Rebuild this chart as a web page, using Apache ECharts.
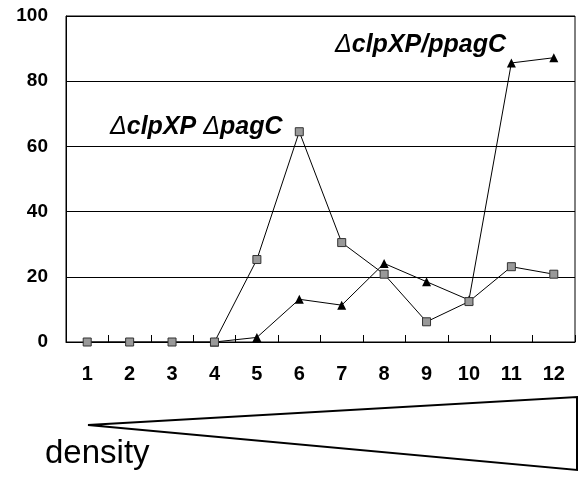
<!DOCTYPE html>
<html>
<head>
<meta charset="UTF-8">
<title>density</title>
<script src="https://cdn.jsdelivr.net/npm/echarts@6/dist/echarts.min.js"></script>
<style>
  html, body { margin: 0; padding: 0; background: #fff; }
  #main { width: 580px; height: 485px; }
</style>
</head>
<body>
<div id="main"></div>
<script>
const densities = ['1', '2', '3', '4', '5', '6', '7', '8', '9', '10', '11', '12'];
const clpXPpagC = [0, 0, 0, 0, 25.3, 64.5, 30.5, 20.8, 6.2, 12.4, 23.1, 20.8];      // squares
const clpXPppagC = [null, null, null, 0, 1.4, 13.1, 11.3, 24.1, 18.5, 12.9, 85.6, 87.2]; // triangles
const yTicks = [0, 20, 40, 60, 80, 100];

let chart = echarts.init(document.getElementById('main'));
const font = 'Liberation Sans, Arial, sans-serif';

chart.setOption({
    animation: false,
    backgroundColor: '#fff',
    grid: { left: 66, right: 5, top: 16, bottom: 143, show: true, borderColor: '#000', borderWidth: 1 },
    xAxis: {
        type: 'category',
        data: densities,
        boundaryGap: true,
        axisLine: { lineStyle: { color: '#000', width: 1 } },
        axisTick: { show: true, inside: true, length: 7, lineStyle: { color: '#000' } },
        axisLabel: { color: '#000', fontSize: 20, fontWeight: 'bold', fontFamily: font, margin: 22 }
    },
    yAxis: {
        type: 'value',
        min: yTicks[0],
        max: yTicks[yTicks.length - 1],
        interval: 20,
        axisLine: { show: true, lineStyle: { color: '#000' } },
        axisTick: { show: false },
        splitLine: { lineStyle: { color: '#000', width: 1 } },
        axisLabel: { color: '#000', fontSize: 19, fontWeight: 'bold', fontFamily: font, margin: 18 }
    },
    series: [
        {
            name: 'ΔclpXP/ppagC',
            type: 'line',
            data: clpXPppagC,
            symbol: 'triangle',
            symbolSize: 9,
            showAllSymbol: true,
            lineStyle: { color: '#000', width: 1 },
            itemStyle: { color: '#000' }
        },
        {
            name: 'ΔclpXP ΔpagC',
            type: 'line',
            data: clpXPpagC,
            symbol: 'rect',
            symbolSize: 8,
            showAllSymbol: true,
            lineStyle: { color: '#000', width: 1 },
            itemStyle: { color: '#999', borderColor: '#333', borderWidth: 1 }
        }
    ],
    graphic: [
        {
            type: 'text', left: 110, top: 115,
            style: {
                text: '{d|Δ}{t|clpXP }{d|Δ}{t|pagC}',
                rich: {
                    d: { fontSize: 25, fontStyle: 'italic', fontFamily: font, fill: '#000' },
                    t: { fontSize: 25, fontStyle: 'italic', fontWeight: 'bold', fontFamily: font, fill: '#000' }
                }
            }
        },
        {
            type: 'text', left: 335, top: 33,
            style: {
                text: '{d|Δ}{t|clpXP/ppagC}',
                rich: {
                    d: { fontSize: 25, fontStyle: 'italic', fontFamily: font, fill: '#000' },
                    t: { fontSize: 25, fontStyle: 'italic', fontWeight: 'bold', fontFamily: font, fill: '#000' }
                }
            }
        },
        {
            type: 'polygon',
            shape: { points: [[88, 425], [577, 397], [577, 470]] },
            style: { fill: '#fff', stroke: '#000', lineWidth: 2 }
        },
        {
            type: 'text', left: 45, top: 437,
            style: { text: 'density', fontSize: 33, fontFamily: font, fill: '#000' }
        }
    ]
});
</script>
</body>
</html>
